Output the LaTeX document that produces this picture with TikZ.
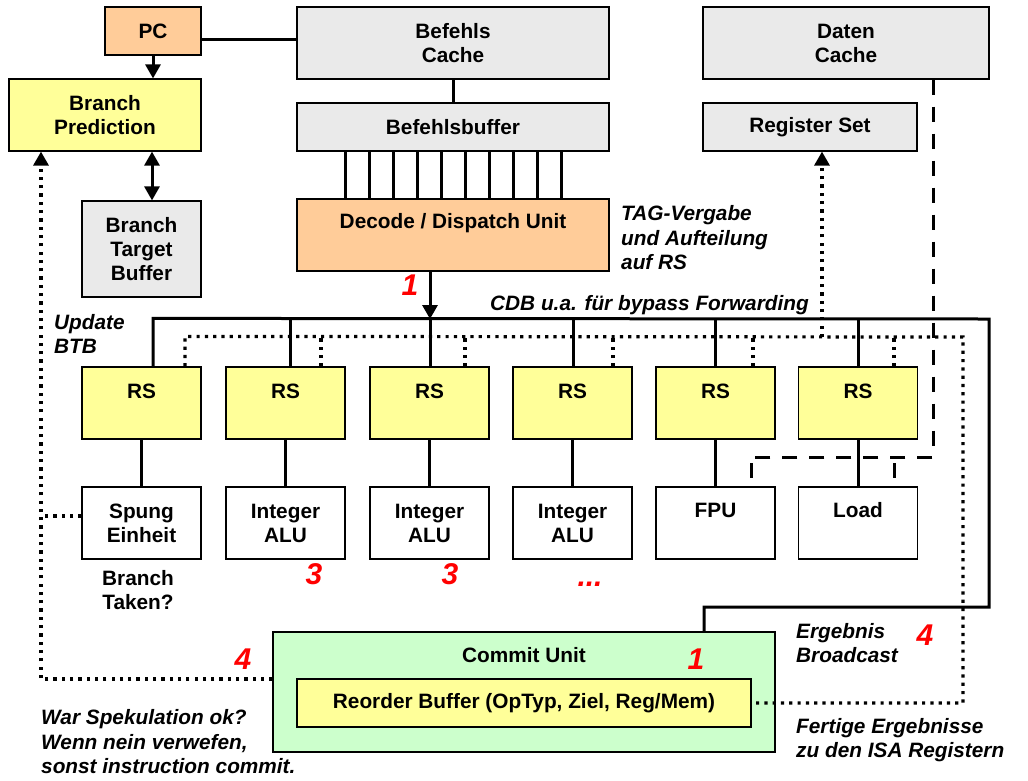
\documentclass[tikz,border=0pt]{standalone}
\usepackage{fontspec}
\setmainfont{Liberation Sans}
\usetikzlibrary{arrows.meta,calc}
\definecolor{orng}{HTML}{FFCC99}
\definecolor{ylw}{HTML}{FFFF99}
\definecolor{gry}{HTML}{EAEAEA}
\definecolor{grn}{HTML}{CCFFCC}
\definecolor{rednum}{HTML}{FF0000}
\begin{document}
\begin{tikzpicture}[x=1pt,y=-1pt,
  box/.style={draw=black,line width=1.2pt,inner sep=0pt,align=center,font=\bfseries\fontsize{20.8}{24}\selectfont},
  lbl/.style={inner sep=0pt,align=center,font=\bfseries\fontsize{20.8}{24}\selectfont},
  itl/.style={inner sep=0pt,align=left,font=\bfseries\itshape\fontsize{20.8}{24.5}\selectfont},
  num/.style={inner sep=0pt,text=rednum,font=\bfseries\itshape\fontsize{30}{30}\selectfont},
  wire/.style={line width=3pt},
  dots/.style={line width=3.2pt,dash pattern=on 3.2pt off 5.1pt},
  dashline/.style={line width=3pt,dash pattern=on 15pt off 12pt},
  tip/.style={-{Triangle[width=15pt,length=14pt]}},
  tips/.style={{Triangle[width=15pt,length=14pt]}-{Triangle[width=15pt,length=14pt]}}
]
\fill[white] (0,0) rectangle (1028,780);
\useasboundingbox (0,0) rectangle (1028,780);

% top boxes
\node[box,fill=orng,minimum width=96pt,minimum height=48pt] (PC) at (153,31) {PC};
\node[box,fill=gry,minimum width=312pt,minimum height=72pt] (BC) at (453,43) {Befehls\\Cache};
\node[box,fill=ylw,minimum width=192pt,minimum height=72pt] (BP) at (105,115) {Branch\\Prediction};
\node[box,fill=gry,minimum width=119pt,minimum height=96pt] (BTB) at (141.5,249) {Branch\\Target\\Buffer};
\node[box,fill=gry,minimum width=312pt,minimum height=48pt] (BB) at (453,127) {Befehlsbuffer};
\node[box,fill=orng,minimum width=312pt,minimum height=72pt] (DD) at (453,235) {};
\node[lbl] (DDt) at (453,223) {Decode / Dispatch Unit};
\node[box,fill=gry,minimum width=286pt,minimum height=72pt] (DC) at (846,43) {Daten\\Cache};
\node[box,fill=gry,minimum width=214pt,minimum height=48pt] (RSet) at (810,127) {Register Set};

% RS and units
\foreach \i/\x in {1/141.5,2/285.5,3/429.5,4/572.5,5/715.5,6/858}{
  \node[box,fill=ylw,minimum width=119pt,minimum height=72pt] (rs\i) at (\x,403) {};
  \node[lbl] (rs\i t) at (\x,391) {RS};
}
\node[box,fill=white,minimum width=119pt,minimum height=72pt] (eu1) at (141.5,523) {Spung\\Einheit};
\node[box,fill=white,minimum width=119pt,minimum height=72pt] (eu2) at (285.5,523) {Integer\\ALU};
\node[box,fill=white,minimum width=119pt,minimum height=72pt] (eu3) at (429.5,523) {Integer\\ALU};
\node[box,fill=white,minimum width=119pt,minimum height=72pt] (eu4) at (572.5,523) {Integer\\ALU};
\node[box,fill=white,minimum width=119pt,minimum height=72pt] (eu5) at (715.5,523) {};
\node[lbl] (eu5t) at (715.5,510) {FPU};
\node[box,fill=white,minimum width=119pt,minimum height=72pt] (eu6) at (858,523) {};
\node[lbl] (eu6t) at (858,510) {Load};

% commit unit
\node[box,fill=grn,minimum width=502pt,minimum height=120pt] (CU) at (524,692) {};
\node[lbl] (CUt) at (524,655) {Commit Unit};
\node[box,fill=ylw,minimum width=454pt,minimum height=48pt] (ROB) at (524,703) {Reorder Buffer (OpTyp, Ziel, Reg/Mem)};

% coordinates
\coordinate (pcR) at ([yshift=-8pt]PC.east);
\coordinate (btbx) at (152,0);
\coordinate (ddo) at ([xshift=-23pt]DD.south);
\coordinate (busy) at (0,319);
\coordinate (busR) at (989,319);
\coordinate (busB) at (989,607);
\coordinate (busC) at (704,607);
\coordinate (dbR) at (963,337);
\coordinate (dbB) at (963,703);
\coordinate (rsetx) at (822,337);
\coordinate (dsh1) at (933,457);
\coordinate (dsh2) at (751,457);
\coordinate (dsh3) at (894,457);
\coordinate (lft) at (41,679);
\coordinate (cuw) at ([yshift=13pt]CU.west);
\coordinate (eu1w) at ([yshift=7pt]eu1.west);

% connectors
\draw[wire] (pcR) -- (pcR -| BC.west);
\draw[wire,tip] (PC.south) -- (PC.south |- BP.north);
\draw[wire,tips] (btbx |- BP.south) -- (btbx |- BTB.north);
\draw[wire] (BC.south) -- (BB.north);
\foreach \k in {0,...,9}{
  \draw[wire] ($(BB.south)+({24*(\k-4.5)},0)$) -- ($(DD.north)+({24*(\k-4.5)},0)$);
}
\draw[wire,tip] (ddo) -- (ddo |- busy);
\draw[wire] ([xshift=11.5pt]rs1.north) -- ++(0,-48) -- (busR) -- (busB) -- (busC) -- (busC |- CU.north);
\foreach \i/\d in {2/4.5,3/0.5,4/0.5,5/-0.5,6/0}{
  \draw[wire] ([xshift=\d pt]rs\i.north) -- ++(0,-48);
}
\draw[dots] ([xshift=43.5pt]rs1.north) -- ++(0,-30) -- (dbR) -- (dbB) -- (ROB.east);
\foreach \i/\d in {2/35.5,3/35.5,4/40.5,5/37.5,6/36}{
  \draw[dots] ([xshift=\d pt]rs\i.north) -- ++(0,-30);
}
\draw[dots,tip] (rsetx) -- (rsetx |- RSet.south);
\draw[dashline] (dsh1 |- DC.south) -- (dsh1) -- (dsh2);
\draw[dashline,dash phase=21pt] (dsh2) -- (dsh2 |- eu5.north);
\draw[dashline,dash phase=21pt] (dsh3) -- (dsh3 |- eu6.north);
\foreach \i in {1,...,6}{
  \draw[wire] (rs\i.south) -- (eu\i.north);
}
\draw[dots,tip] (cuw) -- (lft) -- (lft |- BP.south);
\draw[dots] (eu1w) -- (eu1w -| lft);

% labels
\node[itl,anchor=west] (tag) at (621,238) {TAG-Vergabe\\und Aufteilung\\auf RS};
\node[itl,anchor=west] (cdb) at (490,305) {CDB u.a. f\"ur bypass Forwarding};
\node[itl,anchor=west] (upd) at (54,334) {Update\\BTB};
\node[lbl] (bt) at (138,590) {Branch\\Taken?};
\node[itl,anchor=west] (erg) at (796,643) {Ergebnis\\Broadcast};
\node[itl,anchor=west] (fert) at (796,740) {Fertige Ergebnisse\\zu den ISA Registern};
\node[itl,anchor=west] (war) at (41,742) {War Spekulation ok?\\Wenn nein verwefen,\\sonst instruction commit.};

% red numbers
\node[num] (n1a) at (410,285) {1};
\node[num] (n3a) at (314,574) {3};
\node[num] (n3b) at (450,574) {3};
\node[num,anchor=base] (ndots) at (590,586) {...};
\node[num] (n4a) at (243,659) {4};
\node[num] (n1b) at (696,659) {1};
\node[num] (n4b) at (925,635) {4};
\end{tikzpicture}
\end{document}
